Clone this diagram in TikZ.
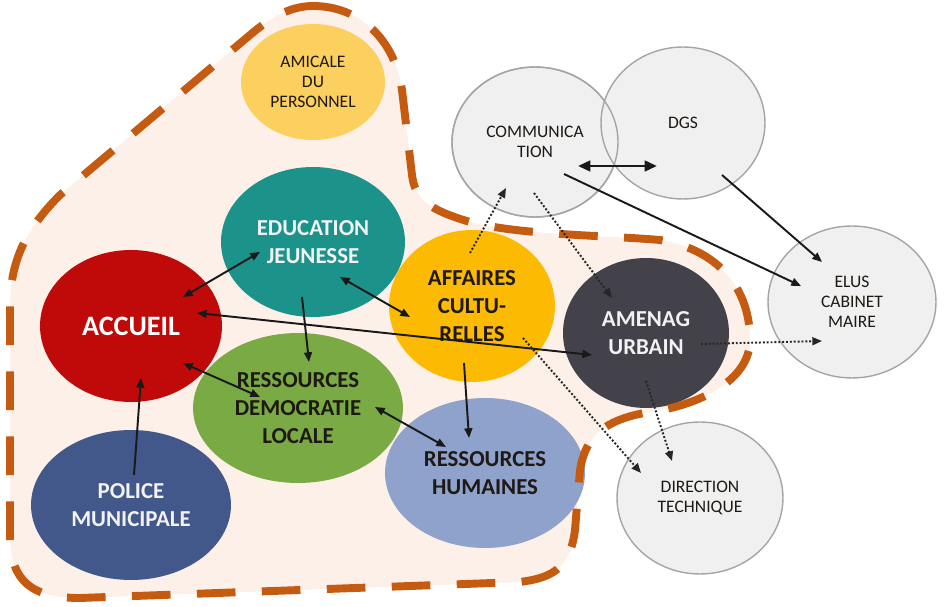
\documentclass[tikz,border=0pt]{standalone}
\usepackage{fontspec}
\setmainfont{Carlito}
\usepackage{tikz}
\usetikzlibrary{arrows.meta}
\usetikzlibrary{shapes.geometric, positioning, calc}

\definecolor{accred}{RGB}{192,10,10}
\definecolor{eduteal}{RGB}{27,146,138}
\definecolor{affyellow}{RGB}{252,186,3}
\definecolor{amenagdark}{RGB}{67,66,74}
\definecolor{democgreen}{RGB}{122,170,67}
\definecolor{rhblue}{RGB}{143,162,204}
\definecolor{policeblue}{RGB}{67,88,138}
\definecolor{amicaleyellow}{RGB}{252,208,95}
\definecolor{blobfill}{RGB}{252,240,232}
\definecolor{dashorange}{RGB}{197,90,17}
\definecolor{bubblegrey}{RGB}{240,240,240}
\definecolor{edgegrey}{RGB}{165,165,165}
\definecolor{textdark}{RGB}{30,25,20}

\begin{document}
\begin{tikzpicture}[x=0.02cm, y=-0.02cm]
		\tikzset{
			myarrow/.tip={Triangle[length=5.5pt, width=4.5pt]},
			bubble/.style={ellipse, inner sep=0pt, align=center},
			greybubble/.style={bubble, fill=bubblegrey, draw=edgegrey, line width=0.8pt, text=textdark, font=\fontsize{10}{11.5}\selectfont},
			bigbubble/.style={bubble, font=\bfseries\fontsize{13}{16}\selectfont},
			link/.style={line width=1.1pt, black!90},
			dottedlink/.style={line width=1.1pt, black!85, dash pattern=on 1.1pt off 1.1pt},
		}
		\useasboundingbox (0,0) rectangle (951,607);
		\path[save path=\blobpath] (313,6) .. controls (360,6) and (395,40) .. (402,90) -- (412,175)
			.. controls (415,200) and (430,210) .. (470,222) .. controls (520,235) and (600,235) .. (660,240)
			.. controls (720,250) and (750,290) .. (750,340) .. controls (750,380) and (700,405) .. (650,412)
			.. controls (600,420) and (585,440) .. (580,470) -- (575,530) .. controls (570,570) and (550,578) .. (520,582)
			-- (80,598) .. controls (30,598) and (12,580) .. (10,540) -- (10,300)
			.. controls (12,260) and (25,230) .. (60,195) -- (250,35) .. controls (270,18) and (290,6) .. (313,6) -- cycle;
		\fill[blobfill, use path=\blobpath];

		\node[greybubble, minimum width=3.32cm, minimum height=3cm] (comm) at (535,142) {COMMUNICA\\TION};
		\node[greybubble, minimum width=3.28cm, minimum height=3.04cm] (dgs) at (683,123) {DGS};
		\draw[edgegrey, line width=0.8pt] (comm.center) ellipse [x radius=83, y radius=75];
		\node[greybubble, minimum width=3.36cm, minimum height=3.04cm] (elus) at (852,302) {ELUS\\CABINET\\MAIRE};
		\node[greybubble, minimum width=3.32cm, minimum height=3.04cm] (direction) at (700,498) {DIRECTION\\TECHNIQUE};

		\node[bubble, fill=amicaleyellow, text=textdark, font=\fontsize{10}{11.5}\selectfont, minimum width=2.88cm, minimum height=2.32cm] (amicale) at (313,82) {AMICALE\\DU\\PERSONNEL};
		\node[bigbubble, fill=eduteal, text=white!95!black, minimum width=3.68cm, minimum height=3cm] (educ) at (313,242) {EDUCATION\\JEUNESSE};
		\node[bigbubble, fill=affyellow, text=textdark, minimum width=3.32cm, minimum height=3.04cm] (affaires) at (472,306) {AFFAIRES\\CULTU-\\RELLES};
		\node[bigbubble, fill=accred, text=white, font=\bfseries\fontsize{16}{19}\selectfont, minimum width=3.64cm, minimum height=3.04cm] (accueil) at (131,326) {ACCUEIL};
		\node[bigbubble, fill=democgreen, text=textdark, minimum width=4.2cm, minimum height=3cm] (democ) at (298,408) {RESSOURCES\\DEMOCRATIE\\LOCALE};
		\node[bigbubble, fill=policeblue, text=white!95!black, minimum width=4cm, minimum height=3cm] (police) at (131,505) {POLICE\\MUNICIPALE};
		\node[bigbubble, fill=rhblue, text=textdark, minimum width=4cm, minimum height=3cm] (rh) at (485,473) {RESSOURCES\\HUMAINES};
		\node[bigbubble, fill=amenagdark, text=white!95!black, minimum width=3.32cm, minimum height=3cm] (amenag) at (646,333) {AMENAG\\URBAIN};

		\draw[dashorange, line width=4.5pt, dash pattern=on 22pt off 15pt, use path=\blobpath];

		\draw[link, myarrow-myarrow] ($(accueil)+(52,-29)$) -- ($(educ)+(-53,10)$);
		\draw[link, myarrow-myarrow] ($(educ)+(27,35)$) -- ($(affaires)+(-62,11)$);
		\draw[link, -myarrow] ($(educ)+(-11,55)$) -- ($(democ)+(11,-46)$);
		\draw[link, myarrow-myarrow] ($(accueil)+(66,-13)$) -- ($(amenag)+(-54,22)$);
		\draw[link, myarrow-myarrow] ($(accueil)+(52,37)$) -- ($(democ)+(-38,-11)$);
		\draw[link, -myarrow] ($(police)+(3,-30)$) -- ($(accueil)+(10,52)$);
		\draw[link, myarrow-myarrow] ($(democ)+(77,-1)$) -- ($(rh)+(-39,-26)$);
		\draw[link, -myarrow] ($(affaires)+(-8,57)$) -- ($(rh)+(-16,-35)$);
		\draw[link, line width=1.6pt, {Triangle[length=7pt, width=6pt]}-{Triangle[length=7pt, width=6pt]}] ($(comm)+(43,24)$) -- ($(dgs)+(-26,43)$);
		\draw[link, -myarrow] ($(comm)+(29,32)$) -- ($(elus)+(-51,-16)$);
		\draw[link, -myarrow] ($(dgs)+(39,52)$) -- ($(elus)+(-30,-40)$);

		\draw[dottedlink, -myarrow] ($(affaires)+(-2,-53)$) -- ($(comm)+(-29,46)$);
		\draw[dottedlink, -myarrow] ($(comm)+(-1,51)$) -- ($(amenag)+(-34,-35)$);
		\draw[dottedlink, -myarrow] ($(amenag)+(55,11)$) -- ($(elus)+(-30,39)$);
		\draw[dottedlink, -myarrow] ($(amenag)+(0,48)$) -- ($(direction)+(-28,-37)$);
		\draw[dottedlink, -myarrow] ($(affaires)+(51,32)$) -- ($(direction)+(-59,-25)$);
	\end{tikzpicture}
\end{document}
